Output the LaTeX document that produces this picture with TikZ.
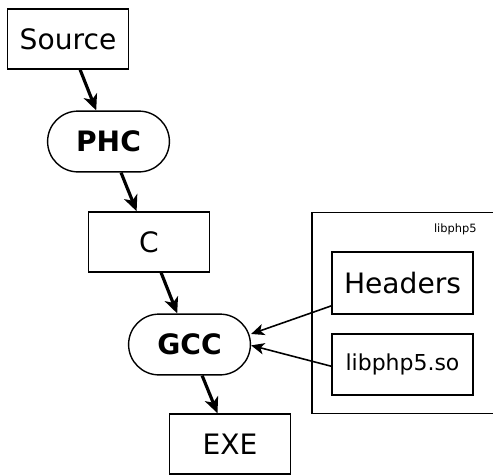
\documentclass[tikz,border=0pt]{standalone}
\usepackage{fontspec}
\setmainfont{DejaVu Sans}
\usetikzlibrary{arrows.meta}
\usetikzlibrary{shapes.misc}

\begin{document}
\begin{tikzpicture}[
     x=0.02cm, y=-0.02cm,
     file/.style={rectangle,draw,line width=1pt,minimum width=69pt,minimum height=34pt,
       font=\fontsize{16}{19}\selectfont},
     tool/.style={rounded rectangle,draw,line width=0.8pt,minimum width=76pt,minimum height=34.6pt,
       font=\fontsize{16}{19}\selectfont\bfseries},
     libfile/.style={file,minimum width=80pt,minimum height=35pt},
     flow/.style={-{Stealth[length=9pt,width=8pt,inset=2.5pt]},line width=1.8pt},
     dep/.style={-{Stealth[length=7.5pt,width=6.5pt,inset=2pt]},line width=0.9pt}
   ]
   \useasboundingbox (0,0) rectangle (493,474);
   % Compile chain.
   \node[file] (source) at (68,39) {Source};
   \node[tool] (phc) at (108.5,141.5) {PHC};
   \node[file] (c) at (149,242) {C};
   \node[tool] (gcc) at (189.5,344.5) {GCC};
   \node[file] (exe) at (230,444) {EXE};
   % The library.
   \node[rectangle,draw,line width=1pt,minimum width=118pt,minimum height=114.5pt] (lib) at (416,313) {};
   \node[anchor=north east,inner sep=0pt,font=\fontsize{6.5}{8}\selectfont] (libname) at (477,223) {libphp5};
   \node[libfile] (hdr) at (402.5,283) {Headers};
   \node[libfile,font=\fontsize{12.5}{15}\selectfont] (so) at (402.5,364.5) {libphp5.so};
   % Edges.
   \draw[flow] (source) -- (phc);
   \draw[flow] (phc) -- (c);
   \draw[flow] (c) -- (gcc);
   \draw[flow] (gcc) -- (exe);
   \draw[dep] ([yshift=-13pt]hdr.west) -- ([yshift=6pt]gcc.east);
   \draw[dep] ([yshift=-1pt]so.west) -- ([yshift=-0.5pt]gcc.east);
\end{tikzpicture}
\end{document}
